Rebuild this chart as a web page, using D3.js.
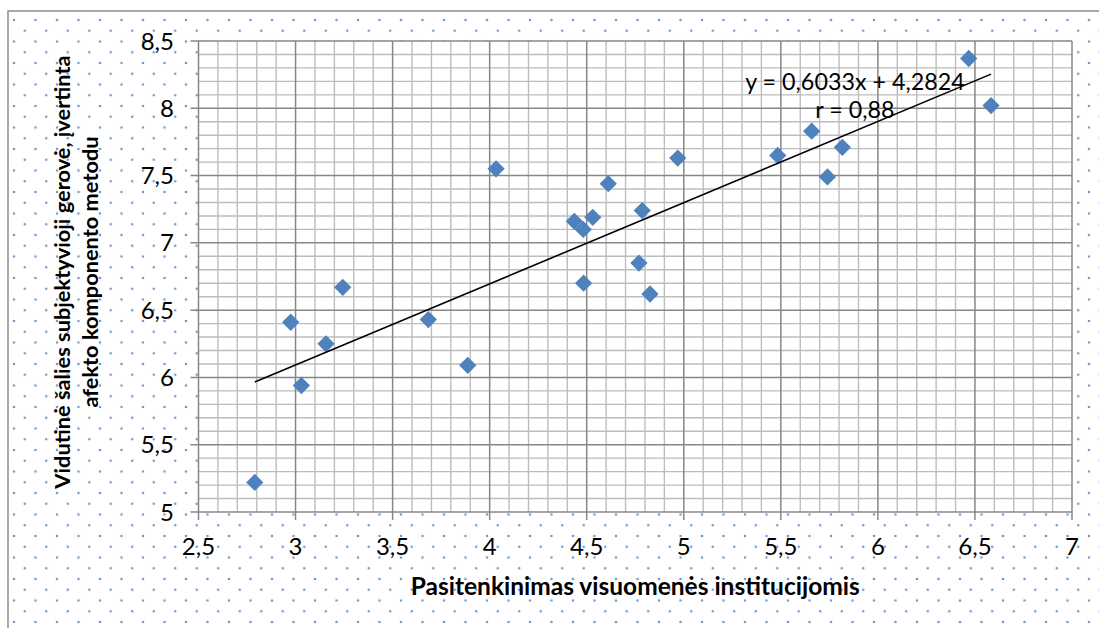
<!DOCTYPE html>
<html>
<head>
<meta charset="utf-8">
<script src="https://cdn.jsdelivr.net/npm/d3@7"></script>
<style>
  html, body { margin: 0; padding: 0; background: #fff; }
  svg { display: block; }
  text { font-family: Lato, "Open Sans", sans-serif; fill: #000; }
</style>
</head>
<body>
<svg id="chart" width="1099" height="628"></svg>
<script>
// Country-level averages: satisfaction with public institutions (x)
// against subjective well-being measured by the affect-component method (y)
const institutionSatisfaction = [
  2.79, 2.975, 3.03, 3.157, 3.243, 3.684, 3.887, 4.033,
  4.436, 4.482, 4.531, 4.484, 4.611, 4.786, 4.769, 4.826, 4.969,
  5.484, 5.659, 5.74, 5.817, 6.468, 6.583
];
const wellBeing = [
  5.22, 6.41, 5.94, 6.25, 6.67, 6.43, 6.09, 7.55,
  7.16, 7.10, 7.19, 6.70, 7.44, 7.24, 6.85, 6.62, 7.63,
  7.65, 7.83, 7.49, 7.71, 8.37, 8.02
];
const trendSlope = 0.6033;
const trendIntercept = 4.2824;
const equationLabel = "y = 0,6033x + 4,2824";
const correlationLabel = "r = 0,88";
const xTickValues = [2.5, 3, 3.5, 4, 4.5, 5, 5.5, 6, 6.5, 7];
const yTickValues = [5, 5.5, 6, 6.5, 7, 7.5, 8, 8.5];
const xTitle = "Pasitenkinimas visuomenės institucijomis";
const yTitleLines = ["Vidutinė šalies subjektyvioji gerovė, įvertinta", "afekto komponento metodu"];

const svg = d3.select("#chart");
const W = 1099, H = 628;
const plot = { left: 198.5, right: 1072, top: 41, bottom: 512 };

const x = d3.scaleLinear().domain([2.5, 7]).range([plot.left, plot.right]);
const y = d3.scaleLinear().domain([5, 8.5]).range([plot.bottom, plot.top]);
const fmt = v => String(v).replace(".", ",");

// dotted chart-area fill
const defs = svg.append("defs");
const pat = defs.append("pattern")
  .attr("id", "dots").attr("patternUnits", "userSpaceOnUse")
  .attr("x", 14).attr("y", 20).attr("width", 21.5).attr("height", 21.5);
[[0, 0], [21.5, 0], [0, 21.5], [21.5, 21.5], [10.75, 10.75]].forEach(([cx, cy]) => {
  pat.append("circle").attr("cx", cx).attr("cy", cy).attr("r", 1.3).attr("fill", "#6d98d4");
});

svg.append("rect").attr("x", 8).attr("y", 11).attr("width", W + 20).attr("height", H + 20)
  .attr("fill", "url(#dots)").attr("stroke", "#8c8c8c").attr("stroke-width", 1.5);

// plot area
svg.append("rect").attr("x", plot.left).attr("y", plot.top)
  .attr("width", plot.right - plot.left).attr("height", plot.bottom - plot.top)
  .attr("fill", "#fff");

const g = svg.append("g");

// minor grid every 0.1
const minorX = d3.range(25, 71).map(v => v / 10).filter(v => Math.round(v * 10) % 5 !== 0);
const minorY = d3.range(50, 86).map(v => v / 10).filter(v => Math.round(v * 10) % 5 !== 0);
g.selectAll(".mx").data(minorX).join("line")
  .attr("x1", d => x(d)).attr("x2", d => x(d)).attr("y1", plot.top).attr("y2", plot.bottom)
  .attr("stroke", "#bdbdbd").attr("stroke-width", 1.4);
g.selectAll(".my").data(minorY).join("line")
  .attr("y1", d => y(d)).attr("y2", d => y(d)).attr("x1", plot.left).attr("x2", plot.right)
  .attr("stroke", "#bdbdbd").attr("stroke-width", 1.4);

// major grid with outward ticks
g.selectAll(".Mx").data(xTickValues).join("line")
  .attr("x1", d => x(d)).attr("x2", d => x(d)).attr("y1", plot.top).attr("y2", plot.bottom + 8)
  .attr("stroke", "#878787").attr("stroke-width", 1.5);
g.selectAll(".My").data(yTickValues).join("line")
  .attr("y1", d => y(d)).attr("y2", d => y(d)).attr("x1", plot.left - 8).attr("x2", plot.right)
  .attr("stroke", "#878787").attr("stroke-width", 1.5);

// tick labels
g.selectAll(".xl").data(xTickValues).join("text")
  .attr("x", d => x(d)).attr("y", 555)
  .attr("text-anchor", "middle").attr("font-size", 24)
  .text(fmt);
g.selectAll(".yl").data(yTickValues).join("text")
  .attr("x", 174).attr("y", d => y(d)).attr("dy", "0.36em")
  .attr("text-anchor", "end").attr("font-size", 24)
  .text(fmt);

// axis titles
svg.append("text").attr("x", (plot.left + plot.right) / 2).attr("y", 595)
  .attr("text-anchor", "middle").attr("font-size", 24.5).attr("font-weight", "bold")
  .text(xTitle);
const yt = svg.append("text").attr("transform", "translate(62,272) rotate(-90)")
  .attr("text-anchor", "middle").attr("font-size", 21.8).attr("font-weight", "bold");
yTitleLines.forEach((t, i) => {
  yt.append("tspan").attr("x", 0).attr("y", i * 28).attr("dy", "0.35em").text(t);
});

// data points
const pts = institutionSatisfaction.map((v, i) => [v, wellBeing[i]]);
g.selectAll(".pt").data(pts).join("path")
  .attr("d", d3.symbol(d3.symbolDiamond2, 190)())
  .attr("transform", d => `translate(${x(d[0])},${y(d[1])})`)
  .attr("fill", "#4f81bd");

// linear trend across the data range
const xMin = d3.min(institutionSatisfaction), xMax = d3.max(institutionSatisfaction);
g.append("line")
  .attr("x1", x(xMin)).attr("y1", y(trendSlope * xMin + trendIntercept))
  .attr("x2", x(xMax)).attr("y2", y(trendSlope * xMax + trendIntercept))
  .attr("stroke", "#000").attr("stroke-width", 1.6);

// equation labels
g.append("text").attr("x", 855).attr("y", 82).attr("dy", "0.35em")
  .attr("text-anchor", "middle").attr("font-size", 23.3).text(equationLabel);
g.append("text").attr("x", 855).attr("y", 110).attr("dy", "0.35em")
  .attr("text-anchor", "middle").attr("font-size", 23.3).text(correlationLabel);
</script>
</body>
</html>
